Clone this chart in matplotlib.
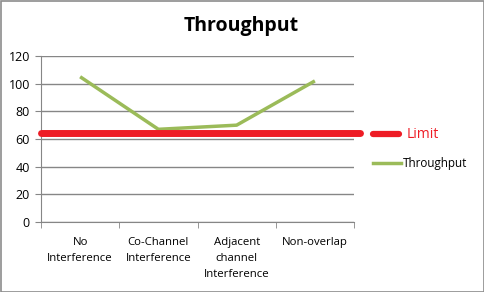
import matplotlib
matplotlib.use("Agg")
import matplotlib.pyplot as plt
from matplotlib.lines import Line2D

categories = ["No\nInterference", "Co-Channel\nInterference", "Adjacent\nchannel\nInterference", "Non-overlap"]
throughput = [105, 67, 70, 102]
limit = 64
yticks = [0, 20, 40, 60, 80, 100, 120]

plt.rcParams['font.family'] = ['Open Sans', 'DejaVu Sans']

W, H = 485, 292
fig = plt.figure(figsize=(W/100, H/100), dpi=100)
fig.patch.set_facecolor('white')
# outer border
fig.add_artist(plt.Rectangle((0.5/W, 0.5/H), 1-1.5/W, 1-1.5/H, transform=fig.transFigure,
                             fill=False, edgecolor='#8c8c8c', linewidth=1.2))

left, right, top, bottom = 41, 354, 56, 222
ax = fig.add_axes([left/W, 1-bottom/H, (right-left)/W, (bottom-top)/H])
x = list(range(len(categories)))
ax.set_xlim(-0.5, len(categories)-0.5)
ax.set_ylim(0, 120)
ax.set_yticks(yticks)
ax.yaxis.grid(True, color='#868686', linewidth=1)
ax.set_axisbelow(True)
for s in ['top', 'right']:
    ax.spines[s].set_visible(False)
for s in ['left', 'bottom']:
    ax.spines[s].set_color('#868686')
ax.tick_params(axis='y', length=4, color='#868686', labelsize=9, pad=4)
ax.tick_params(axis='x', length=0, labelsize=8.2, pad=11)
ax.set_xticks(x)
ax.set_xticklabels(categories, linespacing=1.6)
# x boundary ticks
ax.set_xticks([i - 0.5 for i in range(len(categories)+1)], minor=True)
ax.tick_params(axis='x', which='minor', length=4, color='#868686', direction='out')

ax.plot(x, throughput, color='#9bbb59', linewidth=2.5, solid_capstyle='butt', zorder=3)
ax.plot([-0.5, 3.58], [limit, limit], color='#ee1c25', linewidth=5, solid_capstyle='round',
        clip_on=False, zorder=4)

fig.text(241/W, 1-26/H, "Throughput", ha='center', va='center', fontsize=14, fontweight='bold')

# legend
fig.add_artist(Line2D([373/W, 399/W], [1-134/H, 1-134/H], color='#ee1c25', linewidth=4.5,
                      solid_capstyle='round'))
fig.text(407/W, 1-134/H, "Limit", color='#ee1c25', fontsize=10, va='center', ha='left')
fig.add_artist(Line2D([373/W, 401/W], [1-163/H, 1-163/H], color='#9bbb59', linewidth=2.5))
fig.text(403/W, 1-163/H, "Throughput", color='black', fontsize=8.4, va='center', ha='left')

fig.savefig("out.png", dpi=100)
